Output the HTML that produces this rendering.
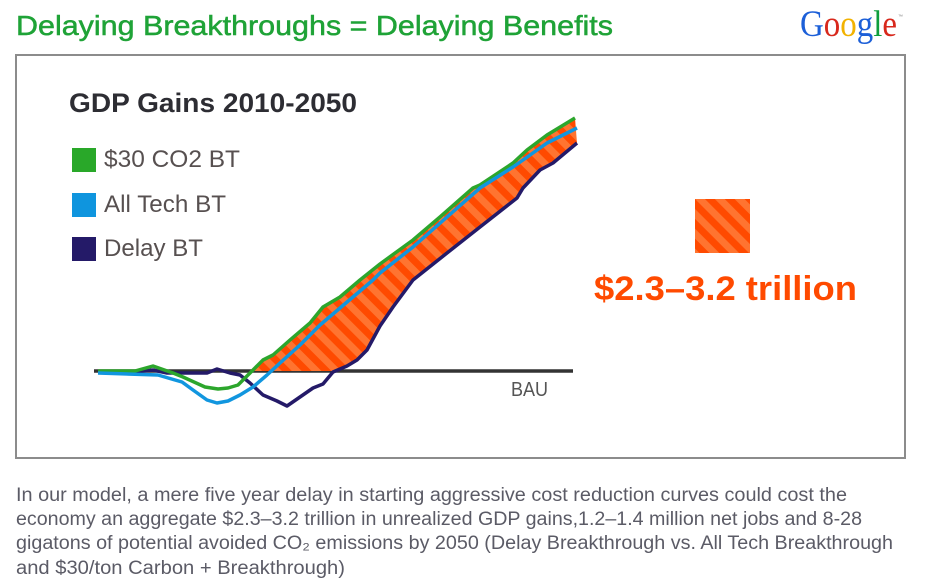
<!DOCTYPE html>
<html>
<head>
<meta charset="utf-8">
<style>
html,body{margin:0;padding:0;background:#fff;}
svg{display:block;}
</style>
</head>
<body>
<svg width="925" height="585" viewBox="0 0 925 585" xmlns="http://www.w3.org/2000/svg">
  <defs>
    <pattern id="stripes" patternUnits="userSpaceOnUse" width="14" height="14" patternTransform="rotate(45)">
      <rect x="0" y="0" width="14" height="14" fill="#ff7430"/>
      <rect x="0" y="0" width="14" height="7" fill="#ff4a00"/>
    </pattern>
    <pattern id="stripes2" patternUnits="userSpaceOnUse" width="14" height="14" patternTransform="translate(695,199) rotate(45)">
      <rect x="0" y="0" width="14" height="14" fill="#ff7430"/>
      <rect x="0" y="0" width="14" height="7" fill="#ff4a00"/>
    </pattern>
  </defs>
  <rect width="925" height="585" fill="#fff"/>

  <!-- Header -->
  <text x="16" y="35" font-family="Liberation Sans, sans-serif" font-size="28" fill="#1fa337" stroke="#1fa337" stroke-width="0.5" textLength="597" lengthAdjust="spacingAndGlyphs">Delaying Breakthroughs = Delaying Benefits</text>
  <text x="800" y="36" font-family="Liberation Serif, serif" font-size="37" textLength="97" lengthAdjust="spacingAndGlyphs"><tspan fill="#1c5fd8">G</tspan><tspan fill="#d8281c">o</tspan><tspan fill="#f2b200">o</tspan><tspan fill="#1c5fd8">g</tspan><tspan fill="#0e9e3c">l</tspan><tspan fill="#d8281c">e</tspan></text>
  <text x="898" y="18" font-family="Liberation Sans, sans-serif" font-size="5" fill="#888">™</text>

  <!-- Frame -->
  <rect x="16" y="55" width="889" height="403" fill="none" stroke="#8c8c8c" stroke-width="2"/>

  <!-- Chart title and legend -->
  <text x="69" y="112" font-family="Liberation Sans, sans-serif" font-weight="bold" font-size="27" fill="#2d2d33" textLength="288" lengthAdjust="spacingAndGlyphs">GDP Gains 2010-2050</text>
  <rect x="72" y="148" width="24" height="24" fill="#29a829"/>
  <text x="104" y="167" font-family="Liberation Sans, sans-serif" font-size="24" fill="#575050" textLength="136" lengthAdjust="spacingAndGlyphs">$30 CO2 BT</text>
  <rect x="72" y="193" width="24" height="24" fill="#0f95de"/>
  <text x="104" y="212" font-family="Liberation Sans, sans-serif" font-size="24" fill="#575050" textLength="122" lengthAdjust="spacingAndGlyphs">All Tech BT</text>
  <rect x="72" y="237" width="24" height="24" fill="#241a68"/>
  <text x="104" y="256" font-family="Liberation Sans, sans-serif" font-size="24" fill="#575050" textLength="99" lengthAdjust="spacingAndGlyphs">Delay BT</text>

  <!-- BAU baseline -->
  <line x1="94" y1="371" x2="573" y2="371" stroke="#333333" stroke-width="3.5"/>
  <text x="511" y="396" font-family="Liberation Sans, sans-serif" font-size="20" fill="#555" textLength="37" lengthAdjust="spacingAndGlyphs">BAU</text>

  <!-- Fill between curves -->
  <polygon fill="url(#stripes)" points="252,371 263,360 273,355 290,340 310,323 323,307 340,297 360,280 380,264 413,240 440,217 473,188 480,185 513,163 527,150 547,135 575,118 577,143 553,163 540,170 523,188 517,198 480,227 447,253 413,280 393,307 380,326 367,350 357,360 347,366 333,371"/>

  <!-- Series -->
  <polyline fill="none" stroke="#241a68" stroke-width="3.5" stroke-linejoin="round" points="98,372 135,372 153,370 167,373 207,373 217,369 230,373 240,375 250,383 263,395 277,401 287,406 300,397 313,388 323,384 333,372 347,366 357,360 367,350 380,326 393,307 413,280 447,253 480,227 517,198 523,188 540,170 553,163 577,143"/>
  <polyline fill="none" stroke="#2ca62c" stroke-width="3.5" stroke-linejoin="round" points="98,371 135,371 153,366 173,373 183,377 205,387 218,389 228,388 238,385 250,373 263,360 273,355 290,340 310,323 323,307 340,297 360,280 380,264 413,240 440,217 473,188 480,185 513,163 527,150 547,135 575,118"/>
  <polyline fill="none" stroke="#1196df" stroke-width="3.5" stroke-linejoin="round" points="98,373 158,375 182,382 193,390 207,400 217,403 228,401 240,395 253,387 267,375 280,363 300,345 320,325 340,308 373,280 380,273 413,247 447,217 480,188 513,167 523,160 547,143 563,135 577,128"/>

  <!-- Annotation -->
  <rect x="695" y="199" width="55" height="54" fill="url(#stripes2)"/>
  <text x="594" y="300" font-family="Liberation Sans, sans-serif" font-weight="bold" font-size="34" fill="#ff4a00" textLength="263" lengthAdjust="spacingAndGlyphs">$2.3–3.2 trillion</text>

  <!-- Caption -->
  <g font-family="Liberation Sans, DejaVu Sans, sans-serif" font-size="19" fill="#5b5b66">
    <text x="16" y="501" textLength="831" lengthAdjust="spacingAndGlyphs">In our model, a mere five year delay in starting aggressive cost reduction curves could cost the</text>
    <text x="16" y="525" textLength="846" lengthAdjust="spacingAndGlyphs">economy an aggregate $2.3–3.2 trillion in unrealized GDP gains,1.2–1.4 million net jobs and 8-28</text>
    <text x="16" y="549" textLength="877" lengthAdjust="spacingAndGlyphs">gigatons of potential avoided CO₂ emissions by 2050 (Delay Breakthrough vs. All Tech Breakthrough</text>
    <text x="16" y="574" textLength="329" lengthAdjust="spacingAndGlyphs">and $30/ton Carbon + Breakthrough)</text>
  </g>
</svg>
</body>
</html>
